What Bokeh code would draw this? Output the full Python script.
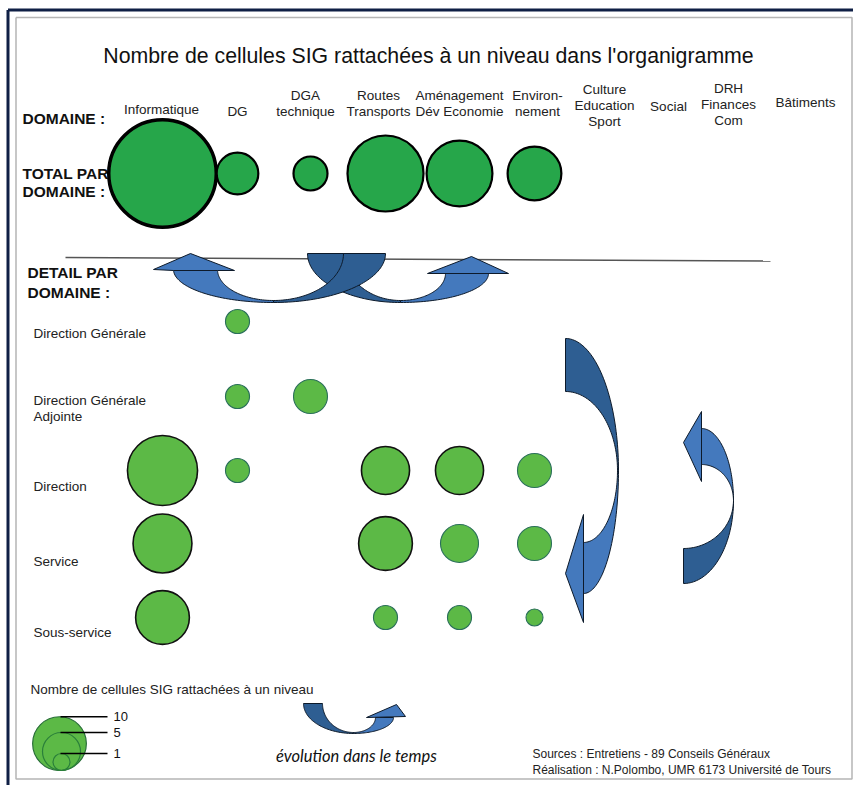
import numpy as np
from bokeh.plotting import figure
from bokeh.models import Range1d, ColumnDataSource
from bokeh.core.properties import value
from bokeh.embed import file_html
from bokeh.resources import INLINE

# ---------------- data ----------------
title = "Nombre de cellules SIG rattachées à un niveau dans l'organigramme"
domains = ["Informatique", "DG", "DGA\ntechnique", "Routes\nTransports",
           "Aménagement\nDév Economie", "Environ-\nnement",
           "Culture\nEducation\nSport", "Social", "DRH\nFinances\nCom", "Bâtiments"]
total_values = [40, 6, 4, 20, 15, 10, 0, 0, 0, 0]

levels = ["Direction Générale", "Direction Générale\nAdjointe", "Direction",
          "Service", "Sous-service"]
detail_informatique = [0, 0, 17, 12, 10]
detail_dg = [2, 2, 2, 0, 0]
detail_dga = [0, 4, 0, 0, 0]
detail_routes = [0, 0, 8, 10, 2]
detail_amenagement = [0, 0, 8, 5, 2]
detail_environnement = [0, 0, 4, 4, 1]
detail_culture = [0, 0, 0, 0, 0]
detail_social = [0, 0, 0, 0, 0]
detail_drh = [0, 0, 0, 0, 0]
detail_batiments = [0, 0, 0, 0, 0]
legend_values = [10, 5, 1]

sources = ["Sources : Entretiens - 89 Conseils Généraux",
           "Réalisation : N.Polombo, UMR 6173 Université de Tours"]

# ---------------- layout ----------------
FONT = value("Liberation Sans")
K = 8.5  # radius (px) = K * sqrt(value)
col_x = [162, 237, 310, 385, 459, 534, 604, 668, 728, 805]
label_x = [161, 237, 305, 378, 459, 537, 604, 668, 728, 805]
label_top = [109, 111, 95, 95, 95, 95, 89, 106, 88, 102]
row_y = [321, 396, 470, 543, 617]
row_label_y = [333, 400, 486, 561, 632]
total_y = 173

W, H = 853, 785
p = figure(width=W, height=H, x_range=Range1d(0, W), y_range=Range1d(H, 0),
           output_backend="svg", toolbar_location=None, min_border=0)
p.axis.visible = False
p.grid.visible = False
p.outline_line_color = None
p.background_fill_color = "white"
p.border_fill_color = "white"

# frame
p.line([7.5, 853], [9.5, 9.5], line_color="#0f1f45", line_width=3)
p.line([7.5, 7.5], [9.5, 785], line_color="#0f1f45", line_width=3)
p.line([15.5, 851.5, 851.5, 15.5, 15.5], [17, 17, 778.5, 778.5, 17],
       line_color="#b5b5b5", line_width=1.5)

def txt(x, y, s, size, align="left", style="normal", color="#111111", font=FONT):
    p.text(x=[x], y=[y], text=[s], text_font=font, text_font_size=size,
           text_align=align, text_baseline="middle", text_font_style=style,
           text_color=color)

txt(428, 55, title, "21.3px", "center")

# header
txt(22, 118, "DOMAINE :", "15.5px", style="bold")
for lx, ly, lab in zip(label_x, label_top, domains):
    for i, line in enumerate(lab.split("\n")):
        txt(lx, ly + i * 16, line, "13.5px", "center", color="#222222")

txt(22, 173, "TOTAL PAR", "15.5px", style="bold")
txt(22, 191, "DOMAINE :", "15.5px", style="bold")
txt(27, 272, "DETAIL PAR", "15.5px", style="bold")
txt(27, 292, "DOMAINE :", "15.5px", style="bold")

# separator line
p.line([65, 770], [257, 260.5], line_color="#555555", line_width=1.5)

# total circles
tx, ty, tr, tw = [], [], [], []
for x, v in zip(col_x, total_values):
    if v > 0:
        tx.append(x); ty.append(total_y); tr.append(K * np.sqrt(v))
        tw.append(3.5 if v >= 30 else 2.2)
p.circle(x="x", y="y", radius="r", source=ColumnDataSource(dict(x=tx, y=ty, r=tr, w=tw)),
         fill_color="#26a64a", line_color="black", line_width="w")

# detail circles
details = [detail_informatique, detail_dg, detail_dga, detail_routes, detail_amenagement,
           detail_environnement, detail_culture, detail_social, detail_drh, detail_batiments]
dx, dy, dr, dw, dc = [], [], [], [], []
for x, col in zip(col_x, details):
    for y, v in zip(row_y, col):
        if v > 0:
            dx.append(x); dy.append(y); dr.append(K * np.sqrt(v))
            dw.append(1.6 if v >= 8 else 1.1)
            dc.append("#111111" if v >= 8 else "#2a6f5a")
p.circle(x="x", y="y", radius="r",
         source=ColumnDataSource(dict(x=dx, y=dy, r=dr, w=dw, c=dc)),
         fill_color="#5cb946", line_color="c", line_width="w")

for ly, lab in zip(row_label_y, levels):
    lines = lab.split("\n")
    for i, line in enumerate(lines):
        yy = ly if len(lines) == 1 else ly + i * 16
        txt(33, yy, line, "13.5px", color="#222222")

# ---------------- arrows ----------------
LIGHT = "#4479bd"
DARK = "#2e5e92"
EDGE = "#0d1a2a"

def band(cx, cy, rxo, ryo, rxi, ryi, t0, t1, n=48):
    t = np.radians(np.linspace(t0, t1, n))
    xo = cx + rxo * np.cos(t); yo = cy + ryo * np.sin(t)
    xi = cx + rxi * np.cos(t[::-1]); yi = cy + ryi * np.sin(t[::-1])
    return list(np.concatenate([xo, xi])), list(np.concatenate([yo, yi]))

def shape(xy, color):
    xs, ys = xy
    p.patch(xs, ys, fill_color=color, line_color=EDGE, line_width=1)

def tri(pts, color):
    p.patch([q[0] for q in pts], [q[1] for q in pts], fill_color=color,
            line_color=EDGE, line_width=1)

# top arrows (domain -> detail)
shape(band(400, 253, 93, 49, 56, 47, 180, 90), DARK)
shape(band(273, 253, 112, 49, 70, 47, 0, 90), DARK)
shape(band(273, 269, 100, 33, 56, 31, 90, 180), LIGHT)
tri([(153, 269), (190, 253), (234, 270), (217, 270), (173, 270)], LIGHT)
shape(band(400, 273, 88, 29, 45, 27, 90, 0), LIGHT)
tri([(427, 273), (471, 256), (508, 273)], LIGHT)

# big right arrow (down-left)
shape(band(565, 470, 53, 132, 52, 79, 270, 360), DARK)
shape(band(583, 470, 35, 123, 34, 72, 0, 90), LIGHT)
tri([(583, 514), (565, 573), (583, 622)], LIGHT)

# small right arrow (up-left)
shape(band(683, 500, 50, 83, 50, 48, 0, 90), DARK)
shape(band(701, 500, 32, 72, 32, 36, 270, 360), LIGHT)
tri([(701, 411), (683, 442), (701, 481)], LIGHT)

# legend arrow
shape(band(353, 703, 50, 30, 31, 29, 180, 90), DARK)
shape(band(353, 717, 40, 16, 22, 15, 90, 0), LIGHT)
tri([(366, 717), (396, 704), (405, 716)], LIGHT)

txt(356, 755, "évolution dans le temps", "16.5px", "center", style="italic",
    color="#111111", font=value("Lato"))

# ---------------- legend ----------------
txt(30, 689, "Nombre de cellules SIG rattachées à un niveau", "13.5px", color="#222222")
base = 770
lr = [K * np.sqrt(v) for v in legend_values]
p.circle(x=[59], y=[base - lr[0]], radius=[lr[0]], fill_color="#5cb946",
         line_color="#2a6f3a", line_width=1.2)
p.circle(x=[61] * 2, y=[base - r for r in lr[1:]], radius=lr[1:], fill_color=None,
         line_color="#2a7f3a", line_width=1.2)
for r, v in zip(lr, legend_values):
    top = base - 2 * r
    p.line([60, 107], [top, top], line_color="black", line_width=1.5)
    txt(113, top, str(v), "13px", color="#111111")

txt(532, 753, sources[0], "12px", color="#222222")
txt(532, 769, sources[1], "12px", color="#222222")

open("out.html", "w").write(file_html(p, INLINE))
